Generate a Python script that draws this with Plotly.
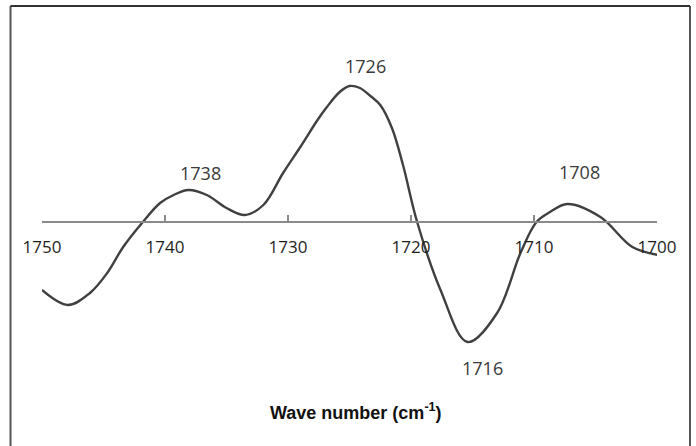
import plotly.graph_objects as go

# Wave numbers (cm-1) and derivative signal (arbitrary units)
wave_number = [1750.0, 1747.9, 1746.1, 1744.7, 1743.4, 1741.8, 1740.4, 1739.3,
               1738.1, 1736.6, 1735.0, 1733.5, 1732.0, 1730.4, 1729.0, 1727.6,
               1726.9, 1725.8, 1725.0, 1724.15, 1723.3, 1722.5, 1721.55, 1720.65,
               1719.5, 1717.6, 1715.4, 1713.0, 1711.1, 1709.8, 1708.7, 1707.3,
               1704.6, 1702.0, 1699.9]
signal = [-68, -83, -71, -51, -25, 0, 19, 27,
          32, 27, 14, 7, 17, 49, 75, 102,
          114, 130, 136, 134, 126, 117, 94, 57,
          0, -68, -120, -91, -31, 0, 10, 18,
          5, -25, -33]

tick_values = [1750, 1740, 1730, 1720, 1710, 1700]
tick_labels = ["1750", "1740", "1730", "1720", "1710", "1700"]

peak_labels = ["1738", "1726", "1716", "1708"]
peak_label_x = [1737.1, 1723.7, 1714.2, 1706.3]
peak_label_y = [49, 156, -146, 50]

W, H = 696, 446
ML, MR, MT, MB = 42, 39, 40, 60
plot_w = W - ML - MR
plot_h = H - MT - MB
axis_py = 222
y_top = axis_py - MT
y_bot = axis_py - (H - MB)


def px_x(px):
    return (px - ML) / plot_w


def px_y(py):
    return (H - MB - py) / plot_h


fig = go.Figure()
fig.add_trace(go.Scatter(
    x=wave_number, y=signal, mode="lines",
    line=dict(color="#404040", width=2.4, shape="spline", smoothing=1.0),
    hoverinfo="skip", showlegend=False,
))

annotations = []
for lab, ax, ay in zip(peak_labels, peak_label_x, peak_label_y):
    annotations.append(dict(
        x=ax, y=ay, xref="x", yref="y", text=lab, showarrow=False,
        font=dict(family="Open Sans", size=18, color="#3a3a3a"),
        xanchor="center", yanchor="middle",
    ))
annotations.append(dict(
    x=px_x(356), y=px_y(411), xref="paper", yref="paper",
    text="<b>Wave number (cm<sup>-1</sup>)</b>", showarrow=False,
    font=dict(family="Liberation Sans", size=18, color="#111111"),
    xanchor="center", yanchor="middle",
))

frame_color = "#555555"
shapes = [
    dict(type="line", xref="paper", yref="paper", x0=px_x(10.5), x1=px_x(10.5),
         y0=px_y(6), y1=px_y(450), line=dict(color=frame_color, width=2)),
    dict(type="line", xref="paper", yref="paper", x0=px_x(690), x1=px_x(690),
         y0=px_y(6), y1=px_y(450), line=dict(color=frame_color, width=2)),
    dict(type="line", xref="paper", yref="paper", x0=px_x(10.5), x1=px_x(690),
         y0=px_y(6), y1=px_y(6), line=dict(color="#333333", width=2)),
]

fig.update_layout(
    width=W, height=H,
    margin=dict(l=ML, r=MR, t=MT, b=MB, autoexpand=False),
    paper_bgcolor="white", plot_bgcolor="white",
    xaxis=dict(
        range=[1750, 1700], tickvals=tick_values, ticktext=tick_labels,
        showgrid=False, zeroline=False, showline=True, linecolor="#8a8a8a",
        linewidth=1.5, ticks="inside", ticklen=6, tickcolor="#8a8a8a",
        tickwidth=1.5, anchor="free", position=px_y(axis_py),
        tickfont=dict(family="Open Sans", size=17, color="#1e1e1e"),
        ticklabelstandoff=10,
    ),
    yaxis=dict(range=[y_bot, y_top], visible=False, showgrid=False,
               zeroline=False),
    annotations=annotations,
    shapes=shapes,
)

fig.write_html("out.html")
